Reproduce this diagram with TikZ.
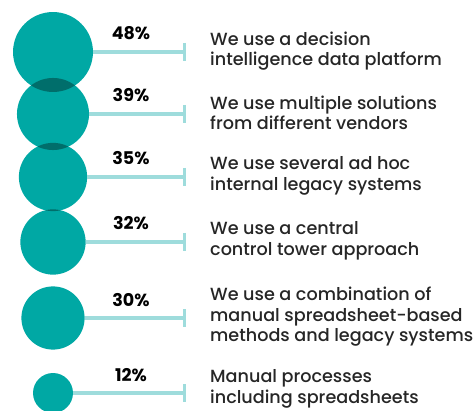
\documentclass[tikz,border=0pt]{standalone}
\usepackage{fontspec}
\setmainfont{Poppins}
\newfontfamily\answerfont{Poppins Medium}
\usetikzlibrary{positioning,calc,arrows.meta}
\definecolor{bubble}{HTML}{00A8A4}
\definecolor{bubbledark}{HTML}{006E6B}
\definecolor{stemcol}{HTML}{9EDCDC}
\definecolor{txt}{HTML}{262626}

\begin{document}
\begin{tikzpicture}[x=1pt,y=-1pt,
    bubble/.style={circle,fill=bubble,inner sep=0pt,outer sep=0pt,minimum size=#1},
    stem/.style={draw=stemcol,line width=3.5pt,-{Bar[width=18pt,line width=3pt]}},
    pct/.style={anchor=base,inner sep=0pt,text=black,font=\bfseries\fontsize{17.5}{19}\selectfont},
    answer/.style={anchor=west,align=left,inner sep=0pt,text=txt,font=\answerfont\fontsize{17.6}{20.5}\selectfont}]
  \useasboundingbox (0,0) rectangle (476,411);
  % bubbles, stems and labels
  \foreach \p/\y/\ty/\t [count=\i] in {
      48/52/51/{We use a decision\\intelligence data platform},
      39/114/113/{We use multiple solutions\\from different vendors},
      35/177/176/{We use several ad hoc\\internal legacy systems},
      32/242/241/{We use a central\\control tower approach},
      30/318/317/{We use a combination of\\manual spreadsheet-based\\methods and legacy systems},
      12/393/389/{Manual processes\\including spreadsheets}} {
    \pgfmathsetmacro\r{5.77*sqrt(\p)}
    \node[bubble=2*\r pt] (c\i) at (53,\y) {};
    \coordinate (e\i) at (186,\y);
    \draw[stem] (c\i) -- (e\i);
    \node[pct] (p\i) at (131,\y-12) {\p\%};
    \node[answer] (t\i) at (210,\ty) {\t};
  }
  % darker overlaps
  \foreach \a/\b/\ra/\rb in {1/2/39.97/36.03, 2/3/36.03/34.14, 3/4/34.14/32.64} {
    \begin{scope}
      \clip (c\a.center) circle (\ra);
      \fill[bubbledark] (c\b.center) circle (\rb);
    \end{scope}
  }
\end{tikzpicture}
\end{document}
